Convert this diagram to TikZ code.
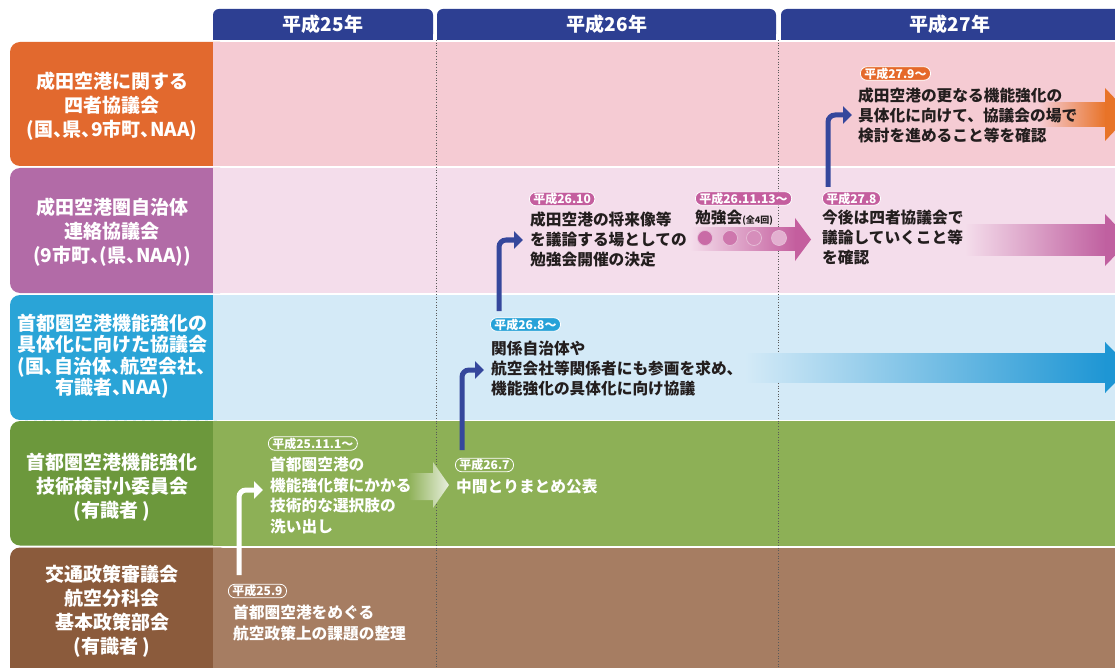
\documentclass[tikz,border=0pt]{standalone}
\usepackage{fontspec}
\setmainfont{Noto Sans CJK JP}
\newfontfamily\halffont{Noto Sans CJK JP}[RawFeature=+halt]
\usetikzlibrary{arrows.meta}
\definecolor{hdr}{RGB}{45,63,146}
\definecolor{lorange}{RGB}{226,105,46}
\definecolor{band1}{RGB}{245,203,211}
\definecolor{lpurple}{RGB}{178,107,167}
\definecolor{band2}{RGB}{244,221,235}
\definecolor{lblue}{RGB}{42,164,215}
\definecolor{band3}{RGB}{212,234,247}
\definecolor{lgreen}{RGB}{108,152,60}
\definecolor{band4}{RGB}{141,176,86}
\definecolor{lbrown}{RGB}{139,91,60}
\definecolor{band5}{RGB}{166,125,98}
\definecolor{conncol}{RGB}{53,71,156}
\definecolor{aorange}{RGB}{232,115,40}
\definecolor{apink}{RGB}{192,96,160}
\definecolor{ablue}{RGB}{30,150,212}
\definecolor{bpink}{RGB}{196,94,158}
\definecolor{borange}{RGB}{229,105,42}
\definecolor{bblue}{RGB}{39,162,216}
\definecolor{txt}{RGB}{35,30,30}
\begin{document}
\begin{tikzpicture}[x=1pt,y=-1pt,
  hdrtxt/.style={text=white,font=\fontsize{19}{20}\selectfont\bfseries,inner sep=0},
  lbl/.style={text=white,align=center,inner sep=0,font=\halffont\fontsize{19}{24}\selectfont\bfseries},
  lbltight/.style={lbl,font=\halffont\fontsize{19}{21.5}\selectfont\bfseries},
  body/.style={anchor=north west,inner sep=0,align=left,text=txt,font=\fontsize{15.7}{19.8}\selectfont\bfseries},
  wbody/.style={body,text=white,font=\fontsize{15.7}{20.6}\selectfont\bfseries},
  badge/.style={anchor=west,rounded corners=6.5,draw=white,line width=0.8,text=white,
    font=\fontsize{12}{12}\selectfont\bfseries,inner xsep=4,inner ysep=0,minimum height=13.5},
  conn/.style={draw=conncol,line width=5,rounded corners=7,-{Triangle[length=9pt,width=17pt]}},
  wconn/.style={conn,draw=white}]
\useasboundingbox (0,0) rectangle (1115,668);
\clip (0,0) rectangle (1115,668);
\fill[white] (0,0) rectangle (1115,668);
% header
\foreach \a/\b in {213/433,437/776,781/1130}{
  \fill[hdr,rounded corners=6] (\a,9) rectangle (\b,40);
  \fill[hdr] (\a,30) rectangle (\b,40);}
\node[hdrtxt] (h25) at (323,24.5) {平成25年};
\node[hdrtxt] (h26) at (607,24.5) {平成26年};
\node[hdrtxt] (h27) at (950,24.5) {平成27年};
% rows
\fill[lorange,rounded corners=10] (10,42) rectangle (230,166);
\fill[band1] (213,42) rectangle (1115,166);
\fill[lpurple,rounded corners=10] (10,168) rectangle (230,293);
\fill[band2] (213,168) rectangle (1115,293);
\fill[lblue,rounded corners=10] (10,295) rectangle (230,420);
\fill[band3] (213,295) rectangle (1115,420);
\fill[lgreen,rounded corners=10] (10,421) rectangle (230,545.5);
\fill[band4] (213,421) rectangle (1115,545.5);
\fill[lbrown,rounded corners=10] (10,547.5) rectangle (230,690);
\fill[band5] (213,547.5) rectangle (1115,690);
\draw[white,line width=1.3,dash pattern=on 6pt off 3pt] (10,420.5) -- (1115,420.5);
% year separators
\draw[black!65,dotted,line width=0.7] (436,40) -- (436,668);
\draw[black!65,dotted,line width=0.7] (778.5,40) -- (778.5,668);
% labels
\node[lbl] (L1) at (112,106) {成田空港に関する\\四者協議会\\(国、県、9市町、NAA)};
\node[lbl] (L2) at (112,232) {成田空港圏自治体\\連絡協議会\\(9市町、(県、NAA))};
\node[lbltight] (L3) at (112,356) {首都圏空港機能強化の\\具体化に向けた協議会\\(国、自治体、航空会社、\\有識者、NAA)};
\node[lbl] (L4) at (112,487) {首都圏空港機能強化\\技術検討小委員会\\(有識者 )};
\node[lbl] (L5) at (112,611) {交通政策審議会\\航空分科会\\基本政策部会\\(有識者 )};
% gradient arrows
\shade[left color=band1,right color=aorange] (1040,103) rectangle (1106,127);
\fill[aorange] (1105,88) -- (1130,114.5) -- (1105,141) -- cycle;
\shade[left color=band2,right color=apink] (965,225) rectangle (1106,255);
\fill[apink] (1105,214) -- (1130,240) -- (1105,266) -- cycle;
\shade[left color=band3,right color=ablue] (745,353) rectangle (1106,382);
\fill[ablue] (1105,342) -- (1130,367.5) -- (1105,393) -- cycle;
\shade[left color=band2,right color=bpink] (690,228) rectangle (796,250);
\fill[bpink] (795,218) -- (811,239.5) -- (795,261) -- cycle;
\shade[left color=band4,right color=white!80!band4] (408,473) -- (433,473) -- (433,462) -- (449,485) -- (433,508) -- (433,500) -- (408,500) -- cycle;
% meeting dots
\foreach \xx/\op in {705/90,730/80,754/62,779/35}{
  \fill[bpink!\op!band2,draw=white!60!bpink,line width=0.7] (\xx,238) circle (7.5);}
% badges
\node[badge,fill=borange] (b1) at (860,73.5) {平成27.9〜};
\node[badge,fill=bpink] (b2a) at (529,199) {平成26.10};
\node[badge,fill=bpink] (b2b) at (695,198.5) {平成26.11.13〜};
\node[badge,fill=bpink] (b2c) at (822,198.5) {平成27.8};
\node[badge,fill=bblue] (b3) at (490,324.5) {平成26.8〜};
\node[badge,fill=band4] (b4a) at (268,443.5) {平成25.11.1〜};
\node[badge,fill=band4] (b4b) at (455,465) {平成26.7};
\node[badge,fill=band5] (b5) at (228,591) {平成25.9};
% texts
\node[body] (t1) at (858,88) {成田空港の更なる機能強化の\\具体化に向けて、協議会の場で\\検討を進めること等を確認};
\node[body] (t2a) at (530,212) {成田空港の将来像等\\を議論する場としての\\勉強会開催の決定};
\node[body,anchor=west] (t2b) at (695,218) {勉強会{\fontsize{9}{9}\selectfont(全4回)}};
\node[body] (t2c) at (822,210) {今後は四者協議会で\\議論していくこと等\\を確認};
\node[body] (t3) at (491,341) {関係自治体や\\航空会社等関係者にも参画を求め、\\機能強化の具体化に向け協議};
\node[wbody] (t4a) at (270,457) {首都圏空港の\\機能強化策にかかる\\技術的な選択肢の\\洗い出し};
\node[wbody,anchor=west] (t4b) at (456,487) {中間とりまとめ公表};
\node[wbody] (t5) at (233,605) {首都圏空港をめぐる\\航空政策上の課題の整理};
% connectors
\coordinate (c1s) at (828,187); \coordinate (c1e) at (852,115);
\coordinate (c2s) at (499,311); \coordinate (c2e) at (523,240);
\coordinate (c3s) at (462,450); \coordinate (c3e) at (484,370);
\coordinate (c4s) at (239,575); \coordinate (c4e) at (263,490);
\draw[conn] (c1s) |- (c1e);
\draw[conn] (c2s) |- (c2e);
\draw[conn] (c3s) |- (c3e);
\draw[wconn] (c4s) |- (c4e);
\end{tikzpicture}
\end{document}
